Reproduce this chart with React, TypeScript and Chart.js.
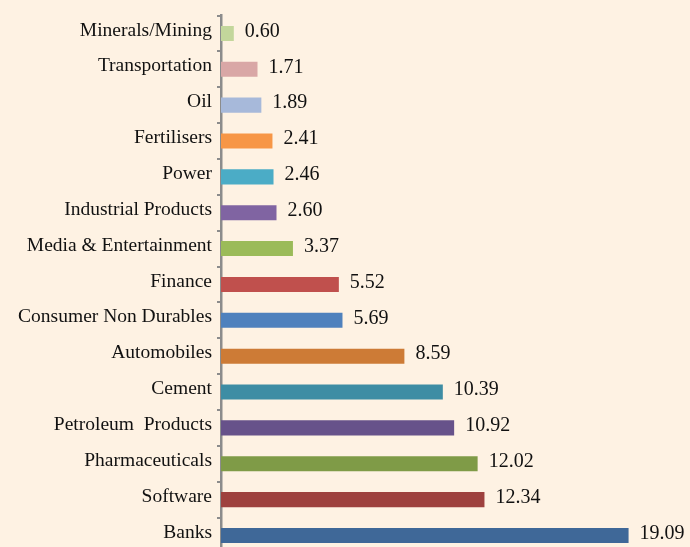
import React, { useEffect, useRef } from 'react';
import { Chart, registerables } from 'chart.js';

Chart.register(...registerables);

const categories = [
  'Minerals/Mining',
  'Transportation',
  'Oil',
  'Fertilisers',
  'Power',
  'Industrial Products',
  'Media & Entertainment',
  'Finance',
  'Consumer Non Durables',
  'Automobiles',
  'Cement',
  'Petroleum  Products',
  'Pharmaceuticals',
  'Software',
  'Banks',
];

const values = [0.6, 1.71, 1.89, 2.41, 2.46, 2.6, 3.37, 5.52, 5.69, 8.59, 10.39, 10.92, 12.02, 12.34, 19.09];

const barColors = [
  '#C3D69B',
  '#D9A7A6',
  '#A7B9DA',
  '#F79646',
  '#4BACC6',
  '#8064A2',
  '#9BBB59',
  '#C0504D',
  '#4F81BD',
  '#CD7B36',
  '#3E8DA4',
  '#67528A',
  '#7F9B47',
  '#9E413E',
  '#3F6898',
];

const xMax = 20;

const BG = '#FEF2E3';
const FONT = '"Liberation Serif", "Times New Roman", serif';

export default function App() {
  const ref = useRef<HTMLCanvasElement>(null);

  useEffect(() => {
    if (!ref.current) return;

    const bgPlugin = {
      id: 'bgFill',
      beforeDraw(chart: any) {
        const { ctx, width, height } = chart;
        ctx.save();
        ctx.fillStyle = BG;
        ctx.fillRect(0, 0, width, height);
        ctx.restore();
      },
    };

    const valuePlugin = {
      id: 'valueLabels',
      afterDatasetsDraw(chart: any) {
        const { ctx } = chart;
        const meta = chart.getDatasetMeta(0);
        ctx.save();
        ctx.font = `20px ${FONT}`;
        ctx.fillStyle = '#111111';
        ctx.textAlign = 'left';
        ctx.textBaseline = 'middle';
        meta.data.forEach((bar: any, i: number) => {
          const p = bar.getProps(['x', 'y'], true);
          ctx.fillText(values[i].toFixed(2), p.x + 11, p.y - 2);
        });
        ctx.restore();
      },
    };

    const chart = new Chart(ref.current, {
      type: 'bar',
      data: {
        labels: categories,
        datasets: [
          {
            data: values,
            backgroundColor: barColors,
            borderWidth: 0,
            categoryPercentage: 0.84,
            barPercentage: 0.5,
          },
        ],
      },
      options: {
        indexAxis: 'y',
        animation: false,
        responsive: true,
        maintainAspectRatio: false,
        devicePixelRatio: 1,
        layout: { autoPadding: false, padding: { left: 0, right: 42, top: 15.5, bottom: 6.6 } },
        plugins: {
          legend: { display: false },
          tooltip: { enabled: false },
        },
        scales: {
          x: {
            display: false,
            min: 0,
            max: xMax,
          },
          y: {
            afterFit(scale: any) {
              scale.width = 221;
              scale.paddingTop = 0;
              scale.paddingBottom = 0;
            },
            grid: {
              display: true,
              drawOnChartArea: false,
              drawTicks: true,
              tickLength: 4,
              color: '#8C8C8C',
              lineWidth: 2,
              offset: true,
            },
            border: { display: true, color: '#8C8C8C', width: 2.5 },
            ticks: {
              color: '#111111',
              padding: 5,
              labelOffset: -3,
              autoSkip: false,
              font: { family: FONT, size: 19.5 },
            },
          },
        },
      },
      plugins: [bgPlugin, valuePlugin],
    });

    return () => chart.destroy();
  }, []);

  return (
    <div style={{ position: 'fixed', left: 0, top: 0, width: '690px', height: '560px', background: BG }}>
      <canvas ref={ref} />
    </div>
  );
}
